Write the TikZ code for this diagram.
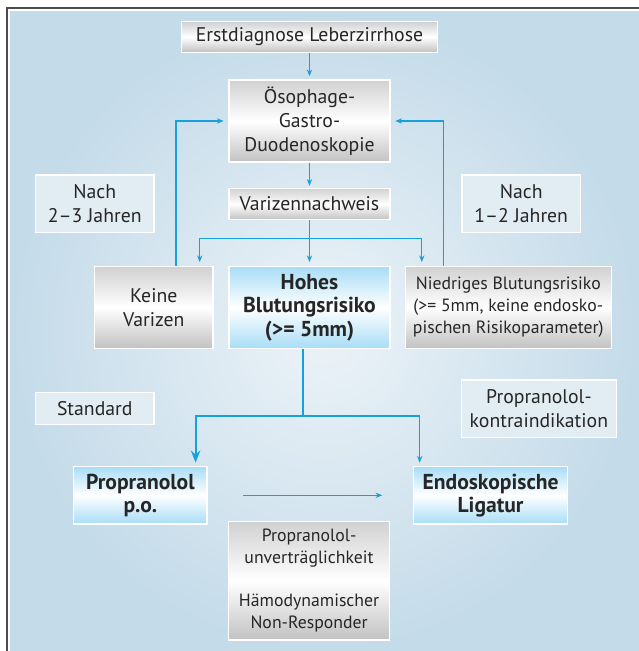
\documentclass[tikz,border=0pt]{standalone}
\usepackage{fontspec}
\setmainfont{PT Sans}
\usetikzlibrary{arrows.meta}
\definecolor{arrowblue}{RGB}{22,160,220}
\definecolor{bgouter}{RGB}{196,219,233}
\definecolor{bginner}{RGB}{236,243,248}
\definecolor{labelfill}{RGB}{226,236,243}
\definecolor{boxblue}{RGB}{168,221,246}
\newcommand\smallboxfont{\fontsize{13.3}{16.5}\selectfont}
\tikzset{
  greybox/.style={draw=white,line width=1pt,top color=black!18,bottom color=black!24,middle color=white,align=center,inner sep=0pt},
  bluebox/.style={draw=white,line width=1pt,top color=boxblue,bottom color=boxblue,middle color=white,align=center,inner sep=0pt,font=\fontsize{16.2}{17.5}\selectfont\bfseries},
  labelbox/.style={draw=white,line width=1pt,fill=labelfill,align=center,inner sep=0pt},
  arr/.style={draw=arrowblue,line width=0.8pt,-{Stealth[length=5pt,width=4pt]}},
  thickarr/.style={draw=arrowblue,line width=1.6pt,-{Stealth[length=9pt,width=7pt]}},
}
\begin{document}
\fontsize{14.8}{18}\selectfont%
\begin{tikzpicture}[x=0.75pt,y=-0.75pt,text=black!85]
  \useasboundingbox (0,0) rectangle (639,651);
  \shade[inner color=bginner,outer color=bgouter] (10,11) rectangle (639,651);
  \draw[line width=1.2pt,black!70] (7,651) -- (7,8) -- (639,8);

  % main column
  \node[greybox,minimum width=191.6pt,minimum height=23pt] (erst) at (309.5,37) {Erstdiagnose Leberzirrhose};
  \node[greybox,minimum width=120.8pt,minimum height=61.3pt] (ogd) at (309.5,121) {Ösophage-\\Gastro-\\Duodenoskopie};
  \node[greybox,minimum width=120.8pt,minimum height=23.3pt] (variz) at (309.5,204) {Varizennachweis};
  \node[greybox,minimum width=88.9pt,minimum height=61.2pt] (keine) at (153.75,307.5) {Keine\\Varizen};
  \node[bluebox,minimum width=120.8pt,minimum height=61.2pt] (hohes) at (309.5,307.5) {Hohes\\Blutungsrisiko\\(>= 5mm)};
  \node[greybox,minimum width=154.3pt,minimum height=61.2pt,font=\smallboxfont] (niedrig) at (508.3,307.5) {Niedriges Blutungsrisiko\\(>= 5mm, keine endosko-\\pischen Risikoparameter)};
  \node[bluebox,minimum width=99.9pt,minimum height=43pt] (prop) at (140.4,495.3) {Propranolol\\p.o.};
  \node[bluebox,minimum width=115.5pt,minimum height=43pt] (ligatur) at (490.6,495.3) {Endoskopische\\Ligatur};
  \node[greybox,minimum width=120.8pt,minimum height=88.7pt,font=\smallboxfont] (unvert) at (309.1,580.8) {Propranolol-\\unverträglichkeit\\[15.75pt]Hämodynamischer\\Non-Responder};

  % labels
  \node[labelbox,minimum width=88.9pt,minimum height=43pt] (nachL) at (94.75,203.6) {Nach\\2–3 Jahren};
  \node[labelbox,minimum width=88.9pt,minimum height=43pt] (nachR) at (521.2,203.6) {Nach\\1–2 Jahren};
  \node[labelbox,minimum width=88.9pt,minimum height=23.7pt] (standard) at (94.75,408.5) {Standard};
  \node[labelbox,minimum width=116.4pt,minimum height=43pt] (kontra) at (538.9,408.6) {Propranolol-\\kontraindikation};

  \coordinate (loopL) at (176,0);
  \coordinate (loopR) at (443.4,0);
  \coordinate (split) at (309.5,238.3);
  \coordinate (brL) at (199.7,0);
  \coordinate (brR) at (421.8,0);
  \coordinate (fork) at (303.2,416);
  \coordinate (forkL) at (195.6,0);
  \coordinate (forkR) at (419.7,0);

  \draw[arr,shorten >=2.5pt] (erst) -- (ogd);
  \draw[arr,shorten >=1.5pt] (ogd) -- (variz);
  \draw[arr,shorten >=3pt] (variz) -- (hohes);
  \draw[arr,shorten >=3pt] (split) -| (keine.north -| brL);
  \draw[arr,shorten >=3pt] (split) -| (niedrig.north -| brR);
  \draw[arr,shorten >=3.5pt] (keine.north -| loopL) |- (ogd.west);
  \draw[arr,shorten >=3.5pt] (niedrig.north -| loopR) |- (ogd.east);
  \draw[thickarr,shorten >=2.5pt] (hohes.south -| fork) -- (fork) -| (prop.north -| forkL);
  \draw[arr,shorten >=2.5pt] (fork) -| (ligatur.north -| forkR);
  \draw[arr,shorten <=26.6pt,shorten >=23pt] (prop) -- (ligatur);
\end{tikzpicture}
\end{document}
